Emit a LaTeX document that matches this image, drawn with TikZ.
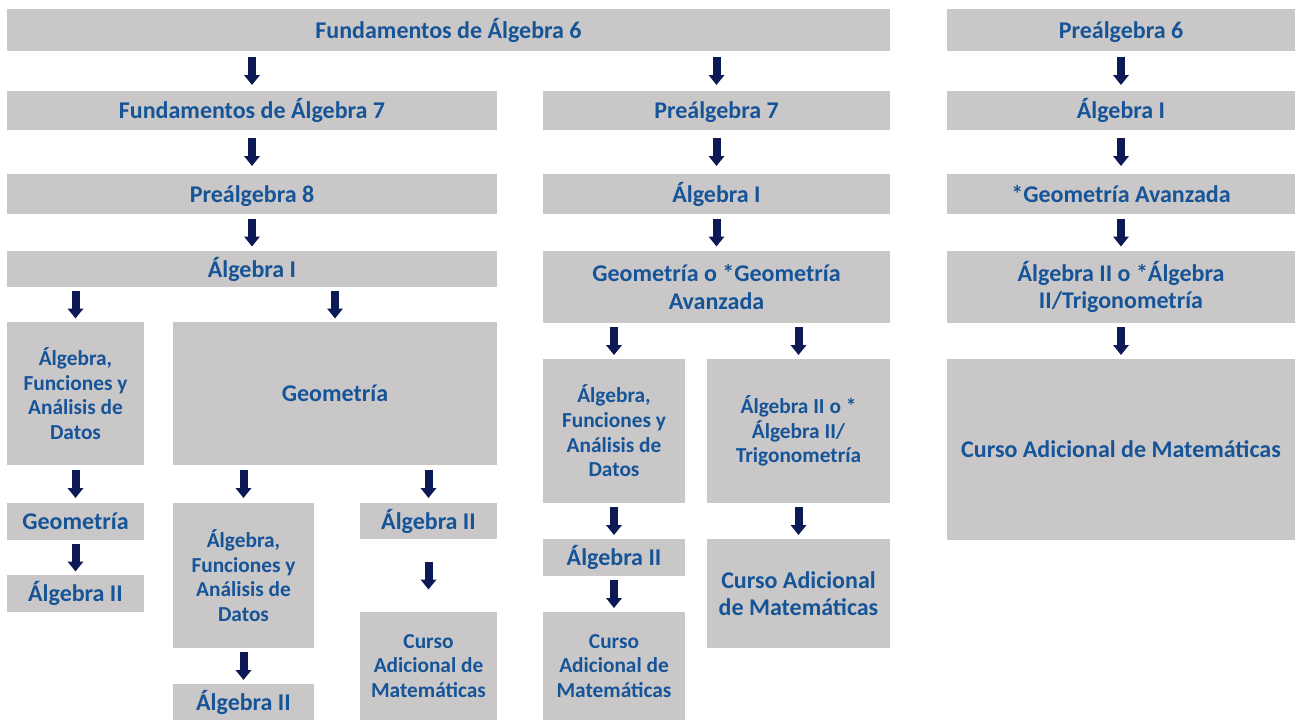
\documentclass[tikz,border=0pt]{standalone}
\usepackage{fontspec}
\setmainfont{Carlito}
\usetikzlibrary{arrows.meta,calc}

\definecolor{grisCaja}{RGB}{201,199,200}
\definecolor{azulTexto}{RGB}{22,84,152}
\definecolor{azulFlecha}{RGB}{13,25,84}

% flecha de largo fijo, centrada en el hueco entre dos cajas
\newcommand{\flecha}[2]{\draw[flecha] ($(#1.south -| #2.north)!.5!(#2.north)$) ++(0,-14) -- ++(0,28);}

\begin{document}
\begin{tikzpicture}[x=0.75pt, y=-0.75pt]
    \tikzstyle{caja}=[fill=grisCaja, text=azulTexto, inner sep=0pt, align=center,
                      font=\fontsize{18}{20.5}\selectfont\bfseries]
    \tikzstyle{chica}=[font=\fontsize{16}{18.5}\selectfont\bfseries]
    \tikzstyle{linea}=[text height=16pt, text depth=3.3pt]
    \tikzset{tam/.style 2 args={minimum width=#1*0.75pt, minimum height=#2*0.75pt},
             flecha/.style={azulFlecha, line width=6pt, -{Triangle[width=11.5pt, length=7.5pt]}}}

    \useasboundingbox (0,0) rectangle (1296,719);

    % Filas de arriba
    \node[caja, linea, tam={883}{42}] (f6) at (448.5,30) {Fundamentos de Álgebra 6};
    \node[caja, linea, tam={348}{42}] (p6) at (1121,30) {Preálgebra 6};
    \node[caja, linea, tam={490}{39}] (f7) at (252,110.5) {Fundamentos de Álgebra 7};
    \node[caja, linea, tam={347}{39}] (p7) at (716.5,110.5) {Preálgebra 7};
    \node[caja, linea, tam={348}{39}] (a1r) at (1121,110.5) {Álgebra I};
    \node[caja, linea, tam={490}{40}] (p8) at (252,194) {Preálgebra 8};
    \node[caja, linea, tam={347}{40}] (a1m) at (716.5,194) {Álgebra I};
    \node[caja, linea, tam={348}{40}] (gar) at (1121,194) {*Geometría Avanzada};
    \node[caja, linea, tam={490}{36}] (a1l) at (252,269) {Álgebra I};
    \node[caja, tam={347}{72}] (gm) at (716.5,287) {Geometría o *Geometría\\Avanzada};
    \node[caja, tam={348}{72}] (a2r) at (1121,287) {Álgebra II o *Álgebra\\II/Trigonometría};

    % Columna izquierda
    \node[caja, chica, tam={137}{143}] (afd1) at (75.5,393.5) {Álgebra,\\Funciones y\\Análisis de\\Datos};
    \node[caja, linea, tam={324}{143}] (geo) at (335,393.5) {Geometría};
    \node[caja, linea, tam={137}{37}] (geo1) at (75.5,521.5) {Geometría};
    \node[caja, linea, tam={137}{37}] (a2a) at (75.5,593.5) {Álgebra II};
    \node[caja, chica, tam={141}{145}] (afd2) at (243.5,575.5) {Álgebra,\\Funciones y\\Análisis de\\Datos};
    \node[caja, linea, tam={137}{36}] (a2b) at (428.5,521) {Álgebra II};
    \node[caja, linea, tam={141}{36}] (a2c) at (243.5,702) {Álgebra II};
    \node[caja, chica, tam={137}{108}] (cam1) at (428.5,666) {Curso\\Adicional de\\Matemáticas};

    % Columna del medio
    \node[caja, chica, tam={142}{144}] (afd3) at (614,431) {Álgebra,\\Funciones y\\Análisis de\\Datos};
    \node[caja, chica, tam={183}{144}] (a2t) at (798.5,431) {Álgebra II o *\\Álgebra II/\\Trigonometría};
    \node[caja, linea, tam={142}{37}] (a2d) at (614,557.5) {Álgebra II};
    \node[caja, chica, tam={142}{108}] (cam2) at (614,666) {Curso\\Adicional de\\Matemáticas};
    \node[caja, tam={183}{109}] (cam4) at (798.5,593.5) {Curso Adicional\\de Matemáticas};

    % Columna derecha
    \node[caja, linea, tam={348}{181}] (cam3) at (1121,449.5) {Curso Adicional de Matemáticas};

    % Flechas
    \flecha{f6}{f7}
    \flecha{f6}{p7}
    \flecha{p6}{a1r}
    \flecha{f7}{p8}
    \flecha{p7}{a1m}
    \flecha{a1r}{gar}
    \flecha{p8}{a1l}
    \flecha{a1m}{gm}
    \flecha{gar}{a2r}
    \flecha{a1l}{afd1}
    \flecha{a1l}{geo}
    \flecha{gm}{afd3}
    \flecha{gm}{a2t}
    \flecha{a2r}{cam3}
    \flecha{afd1}{geo1}
    \flecha{geo1}{a2a}
    \flecha{geo}{afd2}
    \flecha{geo}{a2b}
    \flecha{afd2}{a2c}
    \flecha{a2b}{cam1}
    \flecha{afd3}{a2d}
    \flecha{a2d}{cam2}
    \flecha{a2t}{cam4}
\end{tikzpicture}
\end{document}
